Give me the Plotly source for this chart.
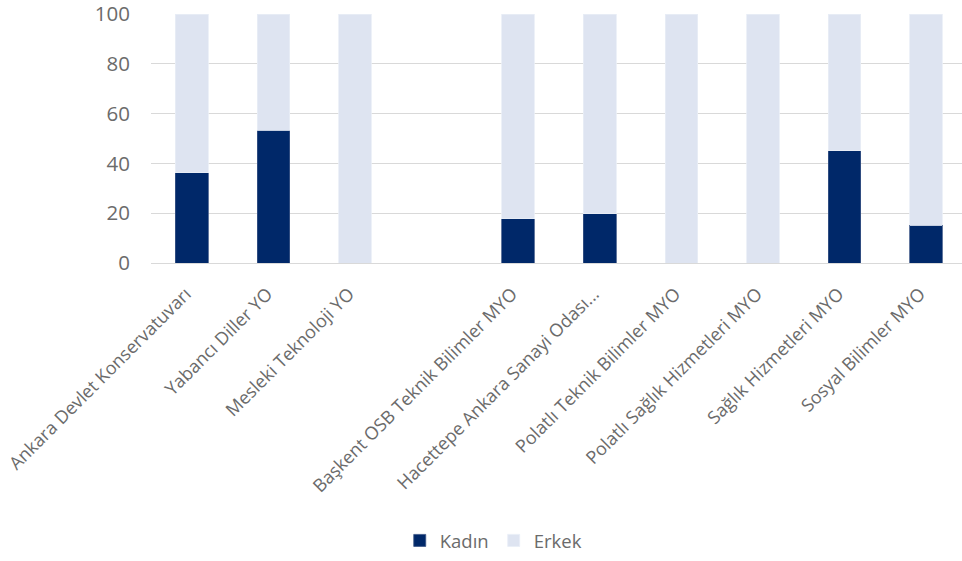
import plotly.graph_objects as go

categories = [
    "Ankara Devlet Konservatuvarı",
    "Yabancı Diller YO",
    "Mesleki Teknoloji YO",
    " ",
    "Başkent OSB Teknik Bilimler MYO",
    "Hacettepe Ankara Sanayi Odası...",
    "Polatlı Teknik Bilimler MYO",
    "Polatlı Sağlık Hizmetleri MYO",
    "Sağlık Hizmetleri MYO",
    "Sosyal Bilimler MYO",
]
kadin = [36.3, 53.3, 0, None, 17.7, 19.8, 0, 0, 45.0, 15.1]
erkek = [63.7, 46.7, 100, None, 82.3, 80.2, 100, 100, 55.0, 84.9]
y_ticks = [0, 20, 40, 60, 80, 100]

FONT = "Open Sans"
GREY = "#6b6b6b"

fig = go.Figure()
fig.add_trace(go.Bar(
    name="Kadın", x=categories, y=kadin,
    marker=dict(color="#002869", line=dict(color="#3b5586", width=0.8)),
))
fig.add_trace(go.Bar(
    name="Erkek", x=categories, y=erkek,
    marker=dict(color="#dee4f1", line=dict(color="#e8edf6", width=0.8)),
))

fig.update_layout(
    barmode="stack",
    bargap=0.6,
    width=962, height=561,
    margin=dict(l=151, r=0, t=14, b=298, autoexpand=False),
    paper_bgcolor="white", plot_bgcolor="white",
    font=dict(family=FONT, color=GREY),
    showlegend=True,
    legend=dict(
        orientation="h", x=0.422, xanchor="center", y=-1.116, yanchor="middle",
        font=dict(size=18.5, color=GREY, family=FONT),
        itemwidth=30, traceorder="normal",
    ),
)
fig.update_xaxes(
    type="category", tickangle=-45, range=[-0.5, 9.44], automargin=False,
    tickfont=dict(size=18, color=GREY, family=FONT),
    ticklabelstandoff=16, ticklabelshift=-6,
    showgrid=False, showline=False, ticks="",
)
fig.update_yaxes(
    range=[0, 100], tickvals=y_ticks, automargin=False,
    ticklabeloverflow="allow",
    tickfont=dict(size=20.5, color=GREY, family=FONT),
    showgrid=True, gridcolor="#d9d9d9", gridwidth=1.3,
    zeroline=True, zerolinecolor="#d9d9d9", zerolinewidth=1.3,
    showline=False, ticks="", ticklabelstandoff=20,
)

fig.write_html(
    "out.html",
    config={"displayModeBar": False},
    post_script="document.body.style.margin='0';document.body.style.overflow='hidden';",
)
